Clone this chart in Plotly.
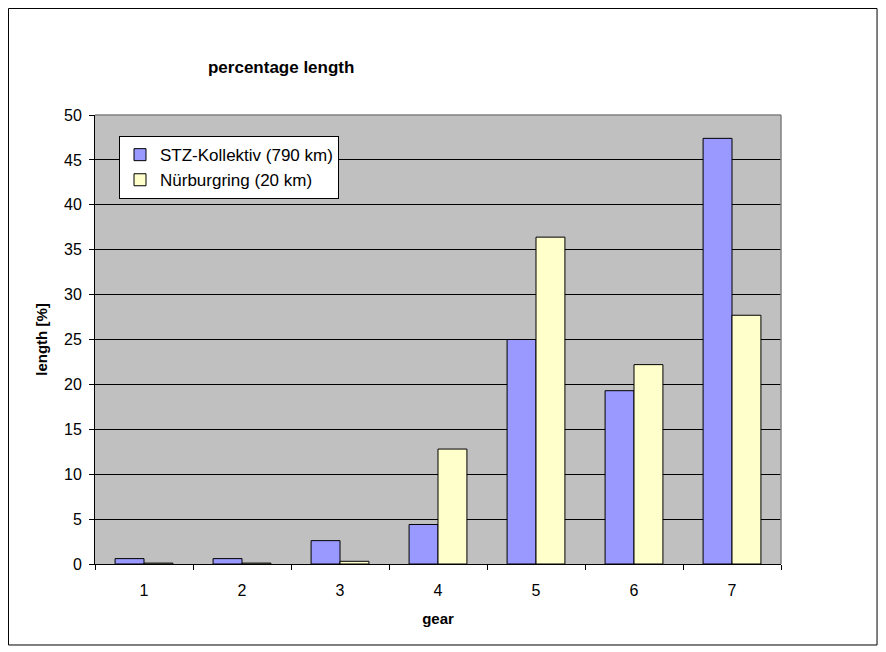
import plotly.graph_objects as go

gears = ["1", "2", "3", "4", "5", "6", "7"]
stz = [0.6, 0.6, 2.6, 4.4, 25.0, 19.3, 47.4]
nuerburgring = [0.1, 0.1, 0.3, 12.8, 36.4, 22.2, 27.7]
y_ticks = [0, 5, 10, 15, 20, 25, 30, 35, 40, 45, 50]

fig = go.Figure()
fig.add_trace(go.Bar(x=gears, y=stz, name="STZ-Kollektiv (790 km)",
                     marker=dict(color="#9999FF", line=dict(color="black", width=1))))
fig.add_trace(go.Bar(x=gears, y=nuerburgring, name="Nürburgring (20 km)",
                     marker=dict(color="#FFFFCC", line=dict(color="black", width=1))))

# page has 8px body margin, so figure is 878x644
fig.update_layout(
    width=878, height=644,
    margin=dict(l=87, r=105, t=107, b=88),
    paper_bgcolor="white", plot_bgcolor="#C0C0C0",
    font=dict(family="Arial, Liberation Sans", color="black", size=16),
    barmode="group", bargap=0.41, bargroupgap=0,
    title=dict(text="<b>percentage length</b>", x=0.1647, xref="paper", xanchor="left",
               y=1 - 59 / 644, yanchor="middle", font=dict(size=17)),
    legend=dict(x=0.035, y=0.953, xanchor="left", yanchor="top",
                bgcolor="white", bordercolor="black", borderwidth=1,
                font=dict(size=17)),
    xaxis=dict(range=[-0.5, 6.5], tickson="boundaries", ticks="outside", ticklen=5,
               tickcolor="black", showline=True, linecolor="black", linewidth=1,
               showgrid=False, tickfont=dict(size=16), ticklabelstandoff=12,
               title=dict(text="<b>gear</b>", font=dict(size=15), standoff=15)),
    yaxis=dict(range=[0, 50], tickvals=y_ticks, ticks="outside", ticklen=5,
               tickcolor="black", showline=True, linecolor="black", linewidth=1,
               showgrid=True, gridcolor="black", gridwidth=1, zeroline=False,
               tickfont=dict(size=16), ticklabelstandoff=4,
               title=dict(text="<b>length [%]</b>", font=dict(size=15), standoff=12)),
    shapes=[
        # grey top/right plot border
        dict(type="line", xref="paper", yref="paper", x0=0, x1=1, y0=1, y1=1,
             line=dict(color="#808080", width=1.5), layer="above"),
        dict(type="line", xref="paper", yref="paper", x0=1, x1=1, y0=0, y1=1,
             line=dict(color="#808080", width=1.5), layer="above"),
        # outer frame
        dict(type="rect", xref="paper", yref="paper", x0=-0.1261, x1=1.140,
             y0=-0.1804, y1=1.2372, line=dict(color="black", width=1)),
    ],
)

fig.write_html("out.html")
